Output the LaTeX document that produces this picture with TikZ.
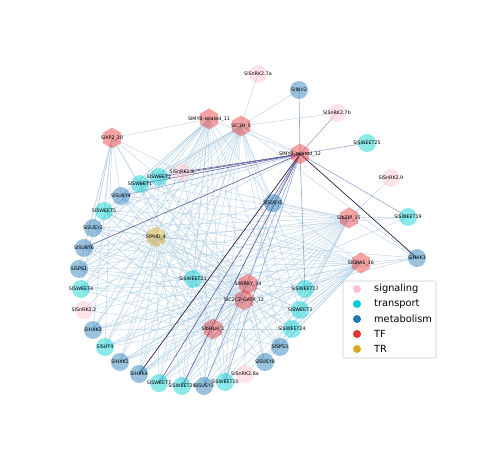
\documentclass[tikz,border=0pt]{standalone}
\usepackage{fontspec}
\setmainfont{DejaVu Sans}
\usetikzlibrary{shapes.geometric}
\pgfdeclarelayer{edgelayer}
\pgfsetlayers{edgelayer,main}
\definecolor{sigc}{RGB}{255,192,203}
\definecolor{trac}{RGB}{0,206,209}
\definecolor{metc}{RGB}{31,119,180}
\definecolor{tfc}{RGB}{232,50,50}
\definecolor{trc}{RGB}{218,168,36}
\definecolor{lec}{RGB}{182,210,231}
\definecolor{mec}{RGB}{118,146,198}
\definecolor{dec}{RGB}{82,76,142}
\definecolor{xec}{RGB}{42,28,62}
\definecolor{legframe}{RGB}{204,204,204}
\begin{document}
\begin{tikzpicture}[x=1pt,y=-1pt,
 lbl/.style={font=\fontsize{4.8}{5}\selectfont, text=black, inner sep=0pt, fill opacity=1, text opacity=1},
 gene/.style={circle, minimum size=18pt, inner sep=0pt, fill opacity=0.45, label={[lbl]center:#1}},
 sig/.style={gene=#1, fill=sigc},
 tra/.style={gene=#1, fill=trac},
 met/.style={gene=#1, fill=metc},
 tfn/.style={regular polygon, regular polygon sides=6, shape border rotate=30, minimum size=21pt, inner sep=0pt, fill=tfc, fill opacity=0.45, label={[lbl]center:#1}},
 trn/.style={tfn=#1, fill=trc},
 ledge/.style={draw=lec, line width=0.55pt, draw opacity=0.8},
 medge/.style={draw=mec, line width=0.6pt, draw opacity=0.8},
 dedge/.style={draw=dec, line width=0.6pt, draw opacity=0.9},
 xedge/.style={draw=xec, line width=0.7pt},
 legdot/.style={circle, minimum size=8pt, inner sep=0pt},
 legtxt/.style={anchor=west, font=\fontsize{9.8}{11}\selectfont, inner sep=0pt}
]
\useasboundingbox (0,0) rectangle (496,460);
% TF and TR
\node[tfn={SlMYB-related\_11}] (m11) at (209,119) {};
\node[tfn={SlC3H\_5}] (c3h) at (241,126) {};
\node[tfn={SlAP2\_20}] (ap2) at (112,138) {};
\node[tfn={SlMYB-related\_12}] (m12) at (300,154) {};
\node[tfn={SlbZIP\_15}] (bzip) at (349,218) {};
\node[tfn={SlGRAS\_16}] (gras) at (361,263) {};
\node[tfn={SlWRKY\_34}] (wrky) at (248,284) {};
\node[tfn={SlC2C2-GATA\_12}] (gata) at (244,300) {};
\node[tfn={SlbHLH\_1}] (bhlh) at (213,329) {};
\node[trn={SlPHD\_4}] (phd) at (156,237) {};
% signaling
\node[sig={SlSnRK2.7a}] (s7a) at (258,74) {};
\node[sig={SlSnRK2.7b}] (s7b) at (337,113) {};
\node[sig={SlSnRK1.2}] (s12) at (182,172) {};
\node[sig={SlSnRK2.9}] (s9) at (391,178) {};
\node[sig={SlSnRK2.2}] (s22) at (84,310) {};
\node[sig={SlSnRK2.8a}] (s8a) at (245,374) {};
% transport
\node[tra={SlSWEET25}] (w25) at (367,143) {};
\node[tra={SlSWEET19}] (w19) at (408,217) {};
\node[tra={SlSWEET2}] (w2) at (159,177) {};
\node[tra={SlSWEET1}] (w1) at (140,184) {};
\node[tra={SlSWEET5}] (w5) at (104,211) {};
\node[tra={SlSWEET4}] (w4) at (81,289) {};
\node[tra={SlSWEET21}] (w21) at (193,279) {};
\node[tra={SlSWEET17}] (w17) at (305,289) {};
\node[tra={SlSWEET3}] (w3) at (300,310) {};
\node[tra={SlSWEET24}] (w24) at (292,329) {};
\node[tra={SlSUT4}] (sut4) at (105,347) {};
\node[tra={SlSWEET7}] (w7) at (159,383) {};
\node[tra={SlSWEET29}] (w29) at (182,386) {};
\node[tra={SlSWEET10}] (w10) at (225,382) {};
% metabolism
\node[met={SlINV2}] (inv2) at (299,90) {};
\node[met={SlSUSY4}] (u4) at (121,196) {};
\node[met={SlSUSY5}] (u5) at (273,203) {};
\node[met={SlSUSY2}] (u2) at (93,228) {};
\node[met={SlSUSY6}] (u6) at (84,248) {};
\node[met={SlSPS1}] (p1) at (79,269) {};
\node[met={SlHXK2}] (h2) at (93,330) {};
\node[met={SlHXK1}] (h1) at (120,362) {};
\node[met={SlHXK4}] (h4) at (139,374) {};
\node[met={SlSUSY3}] (u3) at (204,386) {};
\node[met={SlSUSY8}] (u8) at (265,362) {};
\node[met={SlSPS3}] (p3) at (280,347) {};
\node[met={SlHXK3}] (h3) at (417,258) {};
% edges
\begin{pgfonlayer}{edgelayer}
\foreach \g in {ap2,w2,w1,u4,w5,u2,u6,p1,w4,h2,sut4,h1,h4,w7,w29,u3,w10,u8,w24,w21,u5,s12}
  \draw[ledge] (m11.center) -- (\g.center);
\foreach \g in {s7a,s7b,inv2,w2,w1,u4,w5,u2,p1,w4,h2,sut4,h1,h4,w7,w29,u3,w10,p3,w3,w17,w21,u5,s12,w24,h3}
  \draw[ledge] (c3h.center) -- (\g.center);
\foreach \g in {s12,w2,w1,u4,w5,u2,u6,p1,w4,sut4,h2,w21}
  \draw[ledge] (ap2.center) -- (\g.center);
\foreach \g in {s9,w19,h3,u5,w2,w1,u4,w5,u2,u6,p1,w4,s22,h2,sut4,h1,h4,w7,w29,u3,w10,w21,w17,w3,w24,p3,u8}
  \draw[ledge] (bzip.center) -- (\g.center);
\foreach \g in {h3,u5,w21,w1,u4,w5,p1,w4,h2,sut4,h1,h4,w7,w29,u3,w10,u8,p3,w24,w3,w17,u6,u2,s8a}
  \draw[ledge] (gras.center) -- (\g.center);
\foreach \g in {w2,w1,u4,w5,u2,u6,p1,w4,s22,h2,sut4,h1,h4,w7,w29,u3,w10,w17,w3,w24,p3,u8,w21,u5,h3,w19}
  \draw[ledge] (wrky.center) -- (\g.center);
\foreach \g in {w2,w1,u4,w5,u2,u6,p1,w4,h2,sut4,h1,h4,w7,w29,u3,w10,s8a,u8,p3,w24,w3,w17,w21,u5,h3}
  \draw[ledge] (gata.center) -- (\g.center);
\foreach \g in {w2,w1,u4,w5,u2,u6,p1,w4,s22,h2,sut4,h1,h4,w7,w29,u3,w10,u8,p3,w24,w3,w17,w21,u5,s12}
  \draw[ledge] (bhlh.center) -- (\g.center);
\foreach \g in {w2,w1,u4,w5,u2,u6,p1,w4,s22,h2,sut4,h1,h4,w7,w29,u3,w10,w17,w3,w24,p3,u8,u5,h3,w19}
  \draw[ledge] (phd.center) -- (\g.center);
\foreach \g in {c3h,m11,p1,w5}
  \draw[ledge] (m12.center) -- (\g.center);
\foreach \g in {s7b,w25,w19,inv2,u5,w17,u4,u3,w10}
  \draw[medge] (m12.center) -- (\g.center);
\foreach \g in {s12,w2,w1,u6,w29,w7}
  \draw[dedge] (m12.center) -- (\g.center);
\foreach \g in {h3,h4}
  \draw[xedge] (m12.center) -- (\g.center);
\end{pgfonlayer}
% legend
\node[draw=legframe, line width=0.6pt, rounded corners=2pt, minimum width=93pt, minimum height=77pt, inner sep=0pt] (legbox) at (389.5,319.5) {};
\node[legdot, fill=sigc] (ld1) at (357,289) {};
\node[legdot, fill=trac] (ld2) at (357,304) {};
\node[legdot, fill=metc] (ld3) at (357,319) {};
\node[legdot, fill=tfc] (ld4) at (357,334) {};
\node[legdot, fill=trc] (ld5) at (357,349) {};
\node[legtxt] (lt1) at (374,289) {signaling};
\node[legtxt] (lt2) at (374,304) {transport};
\node[legtxt] (lt3) at (374,319) {metabolism};
\node[legtxt] (lt4) at (374,334) {TF};
\node[legtxt] (lt5) at (374,349) {TR};
\end{tikzpicture}
\end{document}
